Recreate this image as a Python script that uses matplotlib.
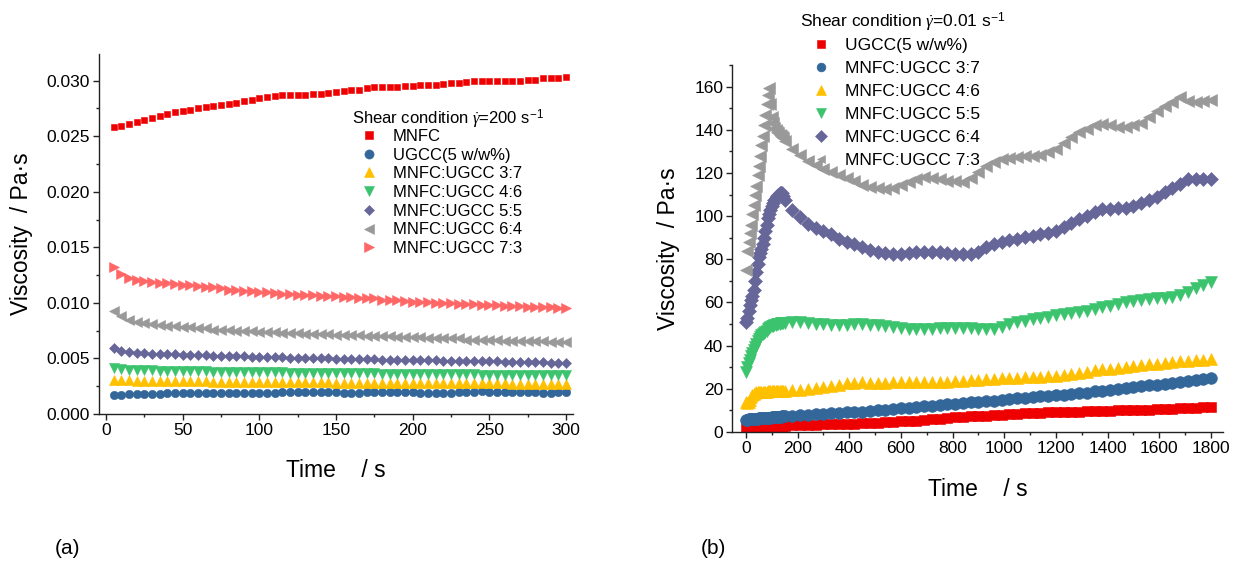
# viscosity vs time, two panels
import numpy as np
import matplotlib
matplotlib.use("Agg")
import matplotlib.pyplot as plt
from matplotlib.ticker import MultipleLocator, FormatStrFormatter

plt.rcParams['font.family'] = ['Liberation Sans', 'DejaVu Sans']
plt.rcParams['mathtext.fontset'] = 'custom'
plt.rcParams['mathtext.rm'] = 'Liberation Sans'
plt.rcParams['mathtext.it'] = 'Liberation Serif:italic'
plt.rcParams['mathtext.bf'] = 'Liberation Sans:bold'

# ---------------- panel (a): 200 1/s ----------------
time_a = np.arange(5, 301, 5)

mnfc_a = [0.02580, 0.02595, 0.02610, 0.02625, 0.02650, 0.02665, 0.02680, 0.02700, 0.02720, 0.02730,
          0.02740, 0.02755, 0.02760, 0.02770, 0.02780, 0.02790, 0.02800, 0.02820, 0.02830, 0.02840,
          0.02850, 0.02860, 0.02870, 0.02870, 0.02870, 0.02870, 0.02880, 0.02880, 0.02890, 0.02900,
          0.02910, 0.02920, 0.02920, 0.02930, 0.02940, 0.02940, 0.02940, 0.02940, 0.02950, 0.02950,
          0.02960, 0.02960, 0.02960, 0.02970, 0.02980, 0.02980, 0.02990, 0.03000, 0.03000, 0.03000,
          0.03000, 0.03000, 0.03000, 0.03000, 0.03010, 0.03010, 0.03020, 0.03020, 0.03020, 0.03030]
ugcc_a = [0.00175, 0.00175, 0.00176, 0.00178, 0.00180, 0.00182, 0.00184, 0.00186, 0.00188, 0.00190,
          0.00192, 0.00193, 0.00192, 0.00193, 0.00190, 0.00188, 0.00186, 0.00186, 0.00186, 0.00186,
          0.00188, 0.00192, 0.00196, 0.00198, 0.00197, 0.00196, 0.00196, 0.00195, 0.00194, 0.00194,
          0.00193, 0.00192, 0.00192, 0.00194, 0.00196, 0.00197, 0.00200, 0.00198, 0.00196, 0.00194,
          0.00193, 0.00192, 0.00193, 0.00192, 0.00193, 0.00194, 0.00196, 0.00197, 0.00203, 0.00201,
          0.00200, 0.00199, 0.00198, 0.00199, 0.00196, 0.00194, 0.00192, 0.00192, 0.00194, 0.00196]
r37_a = [0.00310, 0.00305, 0.00302, 0.00300, 0.00299, 0.00298, 0.00297, 0.00296, 0.00296, 0.00295,
         0.00294, 0.00293, 0.00293, 0.00292, 0.00291, 0.00291, 0.00290, 0.00290, 0.00289, 0.00289,
         0.00288, 0.00288, 0.00287, 0.00286, 0.00286, 0.00285, 0.00285, 0.00284, 0.00284, 0.00283,
         0.00283, 0.00283, 0.00282, 0.00282, 0.00281, 0.00281, 0.00280, 0.00280, 0.00280, 0.00279,
         0.00279, 0.00278, 0.00278, 0.00278, 0.00277, 0.00277, 0.00276, 0.00276, 0.00276, 0.00275,
         0.00275, 0.00275, 0.00274, 0.00274, 0.00273, 0.00273, 0.00273, 0.00272, 0.00272, 0.00271]
r46_a = [0.00415, 0.00405, 0.00400, 0.00397, 0.00394, 0.00392, 0.00390, 0.00388, 0.00387, 0.00386,
         0.00385, 0.00384, 0.00383, 0.00382, 0.00381, 0.00380, 0.00379, 0.00378, 0.00377, 0.00376,
         0.00376, 0.00375, 0.00374, 0.00373, 0.00373, 0.00372, 0.00371, 0.00370, 0.00370, 0.00369,
         0.00368, 0.00367, 0.00367, 0.00366, 0.00365, 0.00364, 0.00364, 0.00363, 0.00362, 0.00362,
         0.00361, 0.00360, 0.00360, 0.00359, 0.00358, 0.00357, 0.00357, 0.00356, 0.00355, 0.00355,
         0.00354, 0.00353, 0.00353, 0.00352, 0.00351, 0.00351, 0.00350, 0.00349, 0.00349, 0.00348]
r55_a = [0.00590, 0.00565, 0.00555, 0.00550, 0.00546, 0.00543, 0.00540, 0.00538, 0.00536, 0.00534,
         0.00532, 0.00530, 0.00528, 0.00526, 0.00524, 0.00522, 0.00520, 0.00518, 0.00516, 0.00514,
         0.00512, 0.00511, 0.00509, 0.00507, 0.00506, 0.00504, 0.00503, 0.00501, 0.00500, 0.00498,
         0.00497, 0.00496, 0.00494, 0.00493, 0.00492, 0.00490, 0.00489, 0.00488, 0.00487, 0.00485,
         0.00484, 0.00483, 0.00482, 0.00481, 0.00480, 0.00479, 0.00478, 0.00477, 0.00476, 0.00475,
         0.00474, 0.00472, 0.00471, 0.00469, 0.00468, 0.00466, 0.00465, 0.00463, 0.00462, 0.00460]
r64_a = [0.0093, 0.0088, 0.0085, 0.0083, 0.0082, 0.0081, 0.0080, 0.0079, 0.0079, 0.0078,
         0.0078, 0.0077, 0.0077, 0.0076, 0.0076, 0.0076, 0.0075, 0.0075, 0.0075, 0.0074,
         0.0074, 0.0074, 0.0073, 0.0073, 0.0073, 0.0072, 0.0072, 0.0072, 0.0072, 0.0071,
         0.0071, 0.0071, 0.0071, 0.0070, 0.0070, 0.0070, 0.0070, 0.0069, 0.0069, 0.0069,
         0.0069, 0.0068, 0.0068, 0.0068, 0.0068, 0.0068, 0.0067, 0.0067, 0.0067, 0.0067,
         0.0067, 0.0066, 0.0066, 0.0066, 0.0066, 0.0066, 0.0066, 0.0065, 0.0065, 0.0065]
r73_a = [0.0132, 0.0126, 0.0122, 0.0121, 0.0120, 0.0119, 0.0118, 0.0118, 0.0117, 0.0116,
         0.0116, 0.0115, 0.0114, 0.0114, 0.0113, 0.0112, 0.0112, 0.0111, 0.0111, 0.0110,
         0.0110, 0.0109, 0.0108, 0.0108, 0.0107, 0.0107, 0.0107, 0.0106, 0.0106, 0.0106,
         0.0105, 0.0105, 0.0104, 0.0104, 0.0104, 0.0103, 0.0103, 0.0103, 0.0102, 0.0101,
         0.0101, 0.0101, 0.0100, 0.0100, 0.0100, 0.0099, 0.0099, 0.0099, 0.0098, 0.0098,
         0.0098, 0.0097, 0.0097, 0.0097, 0.0096, 0.0096, 0.0096, 0.0096, 0.0095, 0.0095]

labels_a = ['MNFC', 'UGCC(5 w/w%)', 'MNFC:UGCC 3:7', 'MNFC:UGCC 4:6',
            'MNFC:UGCC 5:5', 'MNFC:UGCC 6:4', 'MNFC:UGCC 7:3']

# ---------------- panel (b): 0.01 1/s ----------------
# sampled every 5 s in the first 150 s, then every 30 s
time_b = np.concatenate([np.arange(0, 151, 5), np.arange(180, 1801, 30)])

ugcc_b = [1.8, 1.9, 1.9, 2.0, 2.0, 2.1, 2.1, 2.2, 2.2, 2.3, 2.3, 2.3, 2.4, 2.4, 2.4, 2.5,
          2.5, 2.5, 2.6, 2.6, 2.6, 2.7, 2.7, 2.7, 2.8, 2.8, 2.8, 2.9, 2.9, 2.9, 3.0,
          3.1, 3.2, 3.3, 3.4, 3.5, 3.6, 3.7, 3.8, 3.9, 4.0, 4.1, 4.3, 4.5, 4.7, 4.9,
          5.1, 5.3, 5.6, 5.9, 6.2, 6.5, 6.8, 7.0, 7.2, 7.4, 7.6, 7.8, 8.0, 8.2, 8.4,
          8.6, 8.8, 9.0, 9.1, 9.2, 9.3, 9.4, 9.5, 9.6, 9.7, 9.8, 9.9, 10.0, 10.1, 10.2,
          10.3, 10.4, 10.5, 10.6, 10.7, 10.9, 11.1, 11.2, 11.4, 11.5]
r37_b = [5.8, 5.8, 5.9, 5.9, 6.0, 6.0, 6.1, 6.1, 6.2, 6.2, 6.3, 6.3, 6.4, 6.4, 6.5, 6.5,
         6.6, 6.6, 6.7, 6.7, 6.8, 6.8, 6.9, 6.9, 7.0, 7.0, 7.1, 7.1, 7.2, 7.2, 7.3,
         7.5, 7.8, 8.0, 8.3, 8.5, 8.7, 8.9, 9.1, 9.3, 9.5, 9.8, 10.1, 10.4, 10.7, 11.0,
         11.3, 11.6, 11.9, 12.2, 12.5, 12.8, 13.1, 13.4, 13.7, 13.9, 14.2, 14.5, 14.8, 15.2, 15.6,
         15.9, 16.2, 16.5, 16.8, 17.0, 17.2, 17.5, 17.9, 18.3, 18.8, 19.2, 19.6, 20.0, 20.4, 20.8,
         21.2, 21.6, 22.0, 22.4, 22.8, 23.2, 23.6, 24.0, 24.5, 25.0]
r46_b = [13.8, 13.5, 14.0, 15.0, 16.0, 17.0, 17.5, 18.0, 18.5, 18.5, 18.5, 18.5, 18.6, 18.6, 18.7, 18.7,
         18.7, 18.8, 18.8, 18.8, 18.8, 18.9, 18.9, 18.9, 18.9, 19.0, 19.0, 19.0, 19.0, 19.0, 19.0,
         19.3, 19.5, 20.0, 20.5, 21.0, 21.5, 22.0, 22.5, 22.8, 23.0, 22.8, 22.7, 22.8, 23.0, 23.0,
         23.0, 23.2, 23.3, 23.3, 23.2, 23.3, 23.5, 23.8, 24.0, 24.2, 24.5, 24.7, 24.8, 24.8, 25.0,
         25.3, 25.5, 25.6, 25.8, 26.0, 26.3, 26.8, 27.3, 28.0, 28.5, 29.0, 29.3, 29.8, 30.2, 30.6,
         31.0, 31.3, 31.6, 32.0, 32.3, 32.7, 33.0, 33.2, 33.3, 33.8]
r55_b = [28.0, 30.0, 32.0, 33.5, 35.0, 36.5, 38.0, 39.5, 41.0, 42.0, 43.0, 44.0, 45.0, 45.5, 46.0, 46.5,
         47.0, 47.5, 48.0, 48.5, 49.0, 49.0, 49.5, 49.5, 50.0, 50.0, 50.0, 50.5, 50.5, 50.5, 50.5,
         51.0, 51.0, 50.5, 50.0, 50.0, 49.5, 49.5, 49.5, 50.0, 50.0, 49.5, 49.5, 49.0, 48.5, 48.0,
         47.5, 47.5, 47.5, 47.5, 48.0, 48.0, 48.0, 48.0, 48.0, 47.5, 47.5, 47.5, 48.5, 50.0, 51.0,
         51.5, 52.5, 53.0, 53.5, 54.0, 54.5, 55.0, 55.5, 56.0, 57.0, 58.0, 58.5, 59.5, 60.0, 60.5,
         61.0, 61.5, 62.0, 62.0, 62.5, 63.5, 65.0, 66.5, 68.0, 69.5]
r64_b = [51.0, 53.0, 56.0, 59.0, 61.0, 63.0, 66.0, 70.0, 74.0, 78.0, 81.0, 83.0, 85.0, 87.0, 90.0, 93.0,
         96.0, 99.0, 101.0, 103.0, 104.5, 106.0, 107.5, 108.5, 109.5, 110.0, 110.5, 110.5, 110.5, 109.5, 107.5,
         103.0, 99.5, 96.5, 94.5, 93.0, 91.5, 89.5, 88.0, 87.0, 85.5, 84.5, 83.5, 83.0, 82.5, 82.5,
         83.0, 83.5, 83.5, 83.5, 83.5, 83.0, 82.5, 82.5, 82.5, 83.5, 85.5, 87.0, 88.0, 89.0, 89.5,
         90.5, 91.0, 91.5, 92.0, 93.0, 95.0, 97.0, 98.5, 100.0, 102.0, 103.5, 103.5, 104.0, 104.0, 104.5,
         106.0, 107.5, 109.0, 111.0, 113.0, 115.0, 117.0, 117.0, 117.0, 117.0]
r73_b = [75.0, 84.0, 88.0, 92.0, 96.0, 101.0, 105.0, 110.0, 114.0, 119.0, 123.0, 128.0, 133.0, 137.0, 142.0, 147.0,
         152.0, 156.0, 159.5, 152.0, 146.0, 143.0, 141.0, 140.0, 139.0, 138.5, 137.5, 137.0, 136.5, 136.0, 135.0,
         131.0, 128.5, 125.5, 123.5, 122.0, 120.5, 119.0, 117.5, 116.5, 114.5, 113.5, 113.0, 112.8, 113.0, 114.5,
         116.0, 117.0, 118.0, 117.5, 117.0, 116.5, 116.5, 116.0, 117.5, 120.5, 123.0, 125.0, 126.5, 127.0, 127.5,
         128.0, 128.0, 128.5, 129.5, 131.0, 134.0, 136.5, 139.0, 140.5, 142.0, 142.5, 142.0, 141.5, 141.5, 142.0,
         143.0, 146.0, 148.5, 151.0, 153.0, 155.0, 153.5, 153.0, 153.5, 154.0]

labels_b = ['UGCC(5 w/w%)', 'MNFC:UGCC 3:7', 'MNFC:UGCC 4:6',
            'MNFC:UGCC 5:5', 'MNFC:UGCC 6:4', 'MNFC:UGCC 7:3']

c_red = '#EE0000'
c_blue = '#336699'
c_yel = '#FFC000'
c_grn = '#3CC36E'
c_pur = '#666699'
c_gry = '#999999'
c_pnk = '#FF6666'

fig = plt.figure(figsize=(12.39, 5.68), dpi=100)
ax1 = fig.add_axes([0.0799, 0.2711, 0.3826, 0.6338])
ax2 = fig.add_axes([0.5910, 0.2394, 0.3960, 0.6461])

series_a = [(mnfc_a, 's', c_red, 5.0), (ugcc_a, 'o', c_blue, 6.0), (r37_a, '^', c_yel, 6.5),
            (r46_a, 'v', c_grn, 6.5), (r55_a, 'D', c_pur, 5.0), (r64_a, '<', c_gry, 6.5),
            (r73_a, '>', c_pnk, 6.5)]
for (vals, mk, col, ms), lab in zip(series_a, labels_a):
    ax1.plot(time_a, vals, ls='none', marker=mk, ms=ms, color=col, mec=col, mew=0.4, label=lab)

series_b = [(ugcc_b, 's', c_red, 7.5), (r37_b, 'o', c_blue, 8.5), (r46_b, '^', c_yel, 9.0),
            (r55_b, 'v', c_grn, 9.0), (r64_b, 'D', c_pur, 7.5), (r73_b, '<', c_gry, 8.5)]
for (vals, mk, col, ms), lab in zip(series_b, labels_b):
    ax2.plot(time_b, vals, ls='none', marker=mk, ms=ms, color=col, mec=col, mew=0.4, label=lab)

for ax in (ax1, ax2):
    for s in ('top', 'right'):
        ax.spines[s].set_visible(False)
    for s in ('left', 'bottom'):
        ax.spines[s].set_color('#222222')
        ax.spines[s].set_linewidth(1.0)
    ax.tick_params(which='major', direction='out', length=4, width=1.0, color='#222222',
                   labelsize=12.5, pad=2.5)
    ax.tick_params(which='minor', direction='out', length=2.5, width=1.0, color='#222222')

ax1.set_xlim(-4.6, 304.6)
ax1.set_ylim(0, 0.0324)
ax1.xaxis.set_major_locator(MultipleLocator(50))
ax1.xaxis.set_minor_locator(MultipleLocator(25))
ax1.yaxis.set_major_locator(MultipleLocator(0.005))
ax1.yaxis.set_minor_locator(MultipleLocator(0.0025))
ax1.yaxis.set_major_formatter(FormatStrFormatter('%.3f'))

ax2.set_xlim(-53, 1846)
ax2.set_ylim(0, 170)
ax2.xaxis.set_major_locator(MultipleLocator(200))
ax2.xaxis.set_minor_locator(MultipleLocator(100))
ax2.yaxis.set_major_locator(MultipleLocator(20))
ax2.yaxis.set_minor_locator(MultipleLocator(10))

ax1.set_xlabel('Time    / s', fontsize=16.5)
ax1.set_ylabel('Viscosity  / Pa·s', fontsize=16.5)
ax2.set_xlabel('Time    / s', fontsize=16.5)
ax2.set_ylabel('Viscosity  / Pa·s', fontsize=16.5)
ax1.xaxis.set_label_coords(0.5, -0.125)
ax1.yaxis.set_label_coords(-0.139, 0.5)
ax2.xaxis.set_label_coords(0.5, -0.125)
ax2.yaxis.set_label_coords(-0.107, 0.5)

# legend titles as separate text so the gap to the first row matches
fig.text(352 / 1239, 1 - 119 / 568, r'Shear condition $\dot{\gamma}$=200 s$^{-1}$',
         fontsize=12, ha='left', va='center')
fig.text(800 / 1239, 1 - 22 / 568, r'Shear condition $\dot{\gamma}$=0.01 s$^{-1}$',
         fontsize=12.5, ha='left', va='center')

leg1 = ax1.legend(loc='upper left',
                  bbox_to_anchor=(352 / 1239, 1 - 129 / 568), bbox_transform=fig.transFigure,
                  frameon=False, fontsize=12, borderpad=0, handlelength=2.0,
                  handletextpad=0.45, labelspacing=0.22, borderaxespad=0, markerscale=1.1)
leg2 = ax2.legend(loc='upper left',
                  bbox_to_anchor=(800 / 1239, 1 - 38 / 568), bbox_transform=fig.transFigure,
                  frameon=False, fontsize=12.5, borderpad=0, handlelength=2.4,
                  handletextpad=0.2, labelspacing=0.45, borderaxespad=0, markerscale=0.75)

fig.text(67 / 1239, 1 - 549 / 568, '(a)', fontsize=15, ha='center', va='center')
fig.text(713 / 1239, 1 - 549 / 568, '(b)', fontsize=15, ha='center', va='center')

fig.savefig('out.png', dpi=100)
